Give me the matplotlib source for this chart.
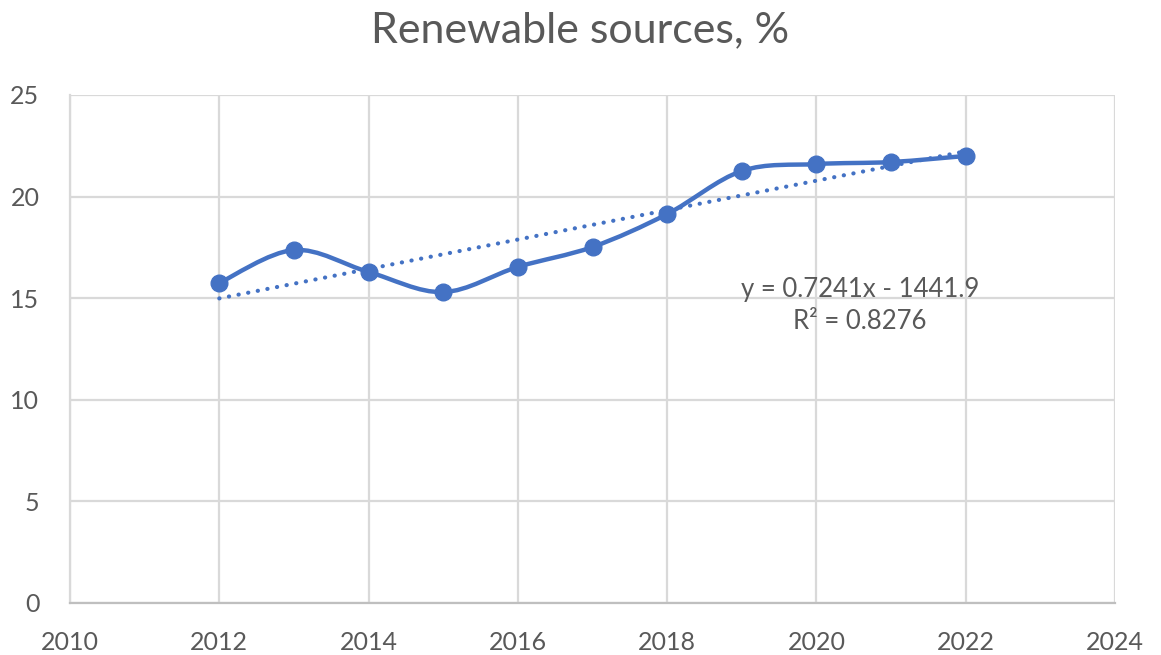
import numpy as np
import matplotlib
matplotlib.use("Agg")
from matplotlib import pyplot as plt
from matplotlib.path import Path
from matplotlib.patches import PathPatch

plt.rcParams['font.family'] = ['Lato', 'DejaVu Sans']

years = [2012, 2013, 2014, 2015, 2016, 2017, 2018, 2019, 2020, 2021, 2022]
share = [15.75, 17.37, 16.29, 15.3, 16.54, 17.52, 19.14, 21.26, 21.6, 21.7, 22.0]
slope = 0.7241
intercept = -1441.9
r2 = 0.8276

x_ticks = [2010, 2012, 2014, 2016, 2018, 2020, 2022, 2024]
y_ticks = [0, 5, 10, 15, 20, 25]

blue = '#4472C4'
grey_text = '#595959'
grid_col = '#D9D9D9'


def smooth_path(xs, ys):
    # Excel-like smoothed line: cubic Bezier with Catmull-Rom control points
    pts = np.column_stack([xs, ys]).astype(float)
    n = len(pts)
    verts = [pts[0]]
    codes = [Path.MOVETO]
    for i in range(n - 1):
        p0 = pts[i - 1] if i > 0 else pts[i]
        p1 = pts[i]
        p2 = pts[i + 1]
        p3 = pts[i + 2] if i + 2 < n else pts[i + 1]
        c1 = p1 + (p2 - p0) / 6.0
        c2 = p2 - (p3 - p1) / 6.0
        verts += [c1, c2, p2]
        codes += [Path.CURVE4] * 3
    return Path(verts, codes)


fig = plt.figure(figsize=(11.61, 6.55), dpi=100)
ax = fig.add_axes([0.0603, 0.0794, 0.9001, 0.7756])

ax.set_xlim(2010, 2024)
ax.set_ylim(0, 25)
ax.set_xticks(x_ticks)
ax.set_yticks(y_ticks)
ax.grid(True, color=grid_col, linewidth=1.6)
ax.set_axisbelow(True)
for s in ['top', 'right']:
    ax.spines[s].set_visible(False)
ax.spines['left'].set_color(grid_col)
ax.spines['left'].set_linewidth(1.6)
ax.spines['bottom'].set_color('#BFBFBF')
ax.spines['bottom'].set_linewidth(1.6)
ax.tick_params(length=0, labelsize=18, colors=grey_text, pad=22)
ax.tick_params(axis='x', pad=20)

# trendline
tx = np.array([years[0], years[-1]])
ax.plot(tx, slope * tx + intercept, color=blue, linestyle=(0, (0.05, 2.3)),
        linewidth=3.0, dash_capstyle='round', zorder=2)

# smoothed series
ax.add_patch(PathPatch(smooth_path(years, share), fill=False, edgecolor=blue,
                       linewidth=3.2, capstyle='round', zorder=3))
ax.plot(years, share, linestyle='none', marker='o', markersize=12,
        color=blue, zorder=4)

ax.text(2020.58, 14.65, 'y = 0.7241x - 1441.9\nR² = 0.8276', ha='center',
        va='center', fontsize=18.5, color=grey_text, linespacing=1.35)

fig.text(0.5, 0.954, 'Renewable sources, %', ha='center', va='center',
         fontsize=31, color=grey_text)

fig.savefig('out.png', dpi=100, facecolor='white')
